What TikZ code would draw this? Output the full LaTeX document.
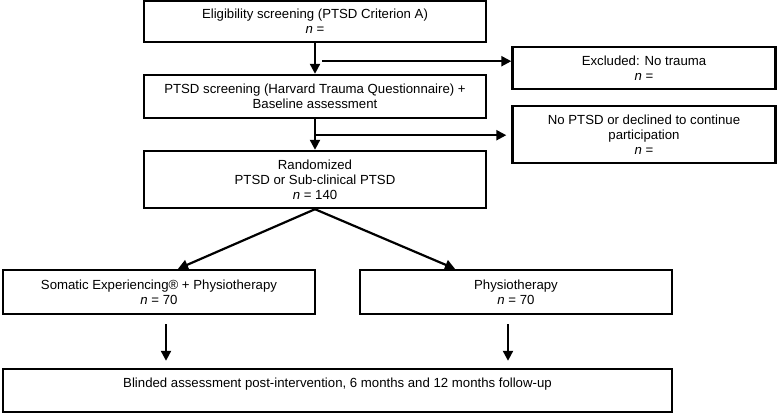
\documentclass[tikz,border=0pt]{standalone}
\usepackage{fontspec}
\setmainfont{Liberation Sans}
\usetikzlibrary{arrows.meta}

\begin{document}
\begin{tikzpicture}[
        x=1pt, y=-1pt,
        font=\fontsize{13.2}{15}\selectfont,
        box/.style={draw, line width=2.4pt, align=center, inner sep=0pt},
        arr/.style={line width=2.2pt, -{Triangle[length=10pt, width=10pt]}}
    ]
        \useasboundingbox (0,0) rectangle (778,415);

        % --- Columna principal ---
        \node[box, minimum width=342, minimum height=41] (elig) at (315,21.5)
            {Eligibility screening (PTSD Criterion A)\\ \textit{n} =};
        \node[box, minimum width=342, minimum height=43] (screen) at (315,96.5)
            {PTSD screening (Harvard Trauma Questionnaire) +\\ Baseline assessment};
        \node[box, minimum width=342, minimum height=57] (rand) at (315,179.5)
            {Randomized\\ PTSD or Sub-clinical PTSD\\ \textit{n} = 140};

        % --- Exclusiones ---
        \node[box, minimum width=263, minimum height=42] (excl) at (644,68)
            {Excluded: No trauma\\ \textit{n} =};
        \node[box, minimum width=263, minimum height=57] (nopt) at (644,134.5)
            {No PTSD or declined to continue\\ participation\\ \textit{n} =};

        % --- Grupos ---
        \node[box, minimum width=312, minimum height=44] (som) at (159,292)
            {Somatic Experiencing® + Physiotherapy\\ \textit{n} = 70};
        \node[box, minimum width=312, minimum height=44] (phys) at (516,292)
            {Physiotherapy\\ \textit{n} = 70};

        % --- Seguimiento ---
        \node[box, minimum width=669, minimum height=43] (final) at (337.5,390.5)
            {Blinded assessment post-intervention, 6 months and 12 months follow-up\\ \mbox{}};

        % --- Flechas ---
        \draw[arr] (elig.south) -- (screen.north);
        \draw[arr] (screen.south) -- (rand.north);

        \coordinate (s1) at ([xshift=7pt, yshift=-18pt]elig.south);
        \draw[arr] (s1) -- (s1 -| excl.west);
        \coordinate (s2) at ([yshift=-16pt]screen.south);
        \draw[arr, shorten >=5pt] (s2) -- (s2 -| nopt.west);

        \draw[arr] (rand.south) -- ([xshift=19pt]som.north);
        \draw[arr] (rand.south) -- ([xshift=-61pt]phys.north);

        \coordinate (a1) at ([xshift=7pt]som.south);
        \coordinate (a2) at ([xshift=-8pt]phys.south);
        \draw[arr, shorten <=9pt, shorten >=7pt] (a1) -- (a1 |- final.north);
        \draw[arr, shorten <=9pt, shorten >=7pt] (a2) -- (a2 |- final.north);

    \end{tikzpicture}
\end{document}
